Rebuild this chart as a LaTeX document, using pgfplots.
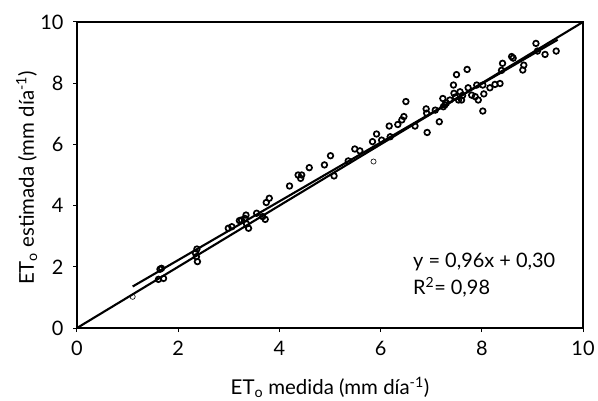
\documentclass[border=0pt]{standalone}
\usepackage{fontspec}
\setmainfont{Lato}
\usepackage{pgfplots}
\pgfplotsset{compat=1.18}
\begin{document}
\begin{tikzpicture}
\begin{axis}[
  scale only axis, width=506bp, height=306bp,
  xmin=0, xmax=10, ymin=0, ymax=10,
  xtick={0,2,4,6,8,10}, ytick={0,2,4,6,8,10},
  tick align=outside, xtick pos=bottom, ytick pos=left,
  major tick length=4bp,
  tick style={line width=1bp, black},
  axis line style={line width=1.3bp},
  ticklabel style={font=\fontsize{20}{24}\selectfont},
  /pgf/number format/assume math mode=true,
  xticklabel style={yshift=-6bp},
  yticklabel style={xshift=-6bp},
  xlabel={ET\textsubscript{o} medida (mm día\textsuperscript{-1})},
  ylabel={ET\textsubscript{o} estimada (mm día\textsuperscript{-1})},
  label style={font=\fontsize{20.5}{24}\selectfont},
  xlabel style={at={(axis description cs:0.5,-0.218)}, anchor=base},
  ylabel style={at={(axis description cs:-0.085,0.49)}, anchor=base},
  clip=false,
]
\coordinate (ll) at (rel axis cs:0,0);
\coordinate (ur) at (rel axis cs:1,1);
% 1:1 line
\addplot[black, line width=2.1bp] coordinates {(0,0) (10,10)};
% regression line y = 0.96x + 0.30
\addplot[black, line width=2.1bp] coordinates {(1.1,1.356) (9.5,9.42)};
% observations
\addplot[only marks, mark=o, mark size=2.8bp, mark options={line width=1.7bp, black}] coordinates {
(1.64,1.92) (1.67,1.95) (1.61,1.59) (1.71,1.62)
(2.37,2.58) (2.34,2.45) (2.36,2.33) (2.38,2.17)
(2.99,3.26) (3.06,3.31) (3.21,3.51) (3.25,3.53) (3.32,3.58) (3.34,3.69)
(3.35,3.40) (3.39,3.26) (3.55,3.75) (3.67,3.64) (3.72,3.55) (3.74,4.10) (3.80,4.24)
(4.20,4.64) (4.37,5.00) (4.42,4.89) (4.44,5.00) (4.59,5.24) (4.89,5.33)
(5.01,5.63) (5.08,4.97) (5.36,5.46) (5.49,5.85) (5.59,5.79) (5.84,6.09)
(5.92,6.34) (6.02,6.14) (6.17,6.60) (6.19,6.25) (6.34,6.65) (6.42,6.80)
(6.46,6.91) (6.50,7.40) (6.68,6.60) (6.92,6.39) (6.90,7.16) (6.91,7.02)
(7.08,7.12) (7.16,6.74) (7.23,7.50) (7.24,7.23) (7.27,7.29) (7.30,7.35)
(7.37,7.45) (7.44,7.94) (7.45,7.67) (7.48,7.55) (7.50,8.28) (7.54,7.45)
(7.57,7.72) (7.60,7.45) (7.62,7.60) (7.71,8.45) (7.73,7.85) (7.80,7.61)
(7.87,7.56) (7.90,7.94) (7.93,7.45) (8.02,7.94) (8.02,7.09) (8.04,7.65)
(8.16,7.85) (8.26,7.96) (8.36,7.99) (8.39,8.42) (8.41,8.65) (8.59,8.87)
(8.62,8.82) (8.81,8.43) (8.83,8.59) (9.07,9.30) (9.10,9.05) (9.25,8.94)
(9.47,9.05)
};
% thin open circles
\addplot[only marks, mark=o, mark size=2.6bp, mark options={line width=0.6bp, black}] coordinates {
(1.10,1.02) (5.86,5.44)
};
\node[anchor=base west, font=\fontsize{20}{24}\selectfont, inner sep=0pt] at (axis cs:6.64,1.99) {y = 0,96x + 0,30};
\node[anchor=base west, font=\fontsize{20}{24}\selectfont, inner sep=0pt] at (axis cs:6.64,1.08) {R\textsuperscript{2}= 0,98};
\end{axis}
\pgfresetboundingbox
\path ([shift={(-77bp,-73bp)}]ll) rectangle ([shift={(15bp,22bp)}]ur);
\end{tikzpicture}
\end{document}
